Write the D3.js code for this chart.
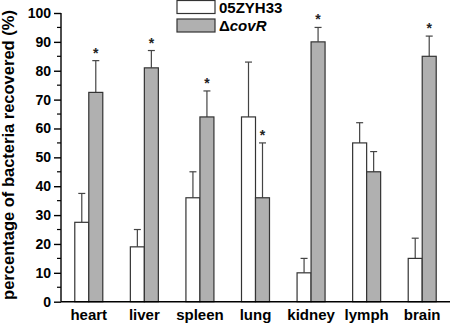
<!DOCTYPE html>
<html>
<head>
<meta charset="utf-8">
<script src="https://cdn.jsdelivr.net/npm/d3@7"></script>
<style>
  body { margin: 0; background: #fff; }
  text { font-family: "Liberation Sans", Arial, sans-serif; font-weight: bold; }
</style>
</head>
<body>
<div id="chart"></div>
<script>
// tissues and the two strains
var organs = ["heart", "liver", "spleen", "lung", "kidney", "lymph", "brain"]
var wildMean = [27.5, 19, 36, 64, 10, 55, 15]
var wildErr = [10, 6, 9, 19, 5, 7, 7]
var mutMean = [72.5, 81, 64, 36, 90, 45, 85]
var mutErr = [11, 6, 9, 19, 5, 7, 7]
var mutStar = [true, true, true, true, true, false, true]
var yTicks = [0, 10, 20, 30, 40, 50, 60, 70, 80, 90, 100]

var width = 450,
    height = 324
var margin = {top: 13, right: 0, bottom: 22, left: 61}

var svg = d3.select("#chart")
            .append("svg")
            .attr("width", width)
            .attr("height", height)

var x = d3.scaleBand()
          .domain(organs)
          .range([margin.left, width - margin.right])
          .padding(0)

var y = d3.scaleLinear()
          .domain([0, 100])
          .range([height - margin.bottom - 0.3, margin.top])

var barW = 14

var data = organs.map(function(o, i) {
    return {organ: o, wm: wildMean[i], we: wildErr[i], mm: mutMean[i], me: mutErr[i], star: mutStar[i]}
})

var groups = svg.selectAll(".grp")
                .data(data)
                .enter().append("g")
                .attr("class", "grp")

// error bars (upward only)
function errBar(sel, cx, top, mean) {
    sel.append("line")
       .attr("x1", cx).attr("x2", cx)
       .attr("y1", y(mean)).attr("y2", y(top))
       .attr("stroke", "#444").attr("stroke-width", 1.2)
    sel.append("line")
       .attr("x1", cx - 3.5).attr("x2", cx + 3.5)
       .attr("y1", y(top)).attr("y2", y(top))
       .attr("stroke", "#444").attr("stroke-width", 1.2)
}

groups.each(function(d) {
    var g = d3.select(this)
    var c = x(d.organ) + x.bandwidth() / 2
    errBar(g, c - barW / 2, d.wm + d.we, d.wm)
    errBar(g, c + barW / 2, d.mm + d.me, d.mm)

    g.append("rect")
     .attr("x", c - barW)
     .attr("y", y(d.wm))
     .attr("width", barW)
     .attr("height", y(0) - y(d.wm))
     .attr("fill", "#fff")
     .attr("stroke", "#333")
     .attr("stroke-width", 1.2)

    g.append("rect")
     .attr("x", c)
     .attr("y", y(d.mm))
     .attr("width", barW)
     .attr("height", y(0) - y(d.mm))
     .attr("fill", "#b0b0b0")
     .attr("stroke", "#333")
     .attr("stroke-width", 1.2)

    if (d.star) {
        g.append("text")
         .attr("x", c + barW / 2)
         .attr("y", y(d.mm + d.me) - 3)
         .attr("text-anchor", "middle")
         .attr("font-size", "14px")
         .attr("fill", "#222")
         .text("*")
    }
})

// y axis
var yAxis = d3.axisLeft(y)
              .tickValues(yTicks)
              .tickSize(7)
              .tickPadding(3)
var ya = svg.append("g")
            .attr("transform", "translate(" + margin.left + ",0)")
            .call(yAxis)
ya.selectAll("text").attr("font-size", "14px").attr("fill", "#000")
ya.selectAll("line, path").attr("stroke", "#000").attr("stroke-width", 1.4)
ya.select(".domain").attr("d", "M0," + y(100) + "V" + y(0))

// minor ticks
svg.append("g")
   .selectAll("line")
   .data(yTicks.slice(0, -1).map(function(t) { return t + 5 }))
   .enter().append("line")
   .attr("x1", margin.left - 4).attr("x2", margin.left)
   .attr("y1", function(d) { return y(d) }).attr("y2", function(d) { return y(d) })
   .attr("stroke", "#000").attr("stroke-width", 1.2)

// x axis
svg.append("line")
   .attr("x1", margin.left).attr("x2", width)
   .attr("y1", y(0)).attr("y2", y(0))
   .attr("stroke", "#000").attr("stroke-width", 1.4)

svg.append("g")
   .selectAll("text")
   .data(organs)
   .enter().append("text")
   .attr("x", function(d) { return x(d) + x.bandwidth() / 2 })
   .attr("y", 320)
   .attr("text-anchor", "middle")
   .attr("font-size", "15px")
   .text(function(d) { return d })

// y title
svg.append("text")
   .attr("transform", "translate(14,155) rotate(-90)")
   .attr("text-anchor", "middle")
   .attr("font-size", "16.5px")
   .text("percentage of bacteria recovered (%)")

// legend
var leg = svg.append("g")
leg.append("rect").attr("x", 177).attr("y", 0.5).attr("width", 38).attr("height", 13)
   .attr("fill", "#fff").attr("stroke", "#333").attr("stroke-width", 1.2)
leg.append("rect").attr("x", 177).attr("y", 19).attr("width", 38).attr("height", 13)
   .attr("fill", "#b0b0b0").attr("stroke", "#333").attr("stroke-width", 1.2)
leg.append("text").attr("x", 219).attr("y", 13).attr("font-size", "15px").text("05ZYH33")
var t2 = leg.append("text").attr("x", 219).attr("y", 31).attr("font-size", "15px")
t2.append("tspan").text("Δ")
t2.append("tspan").attr("font-style", "italic").text("covR")
</script>
</body>
</html>
